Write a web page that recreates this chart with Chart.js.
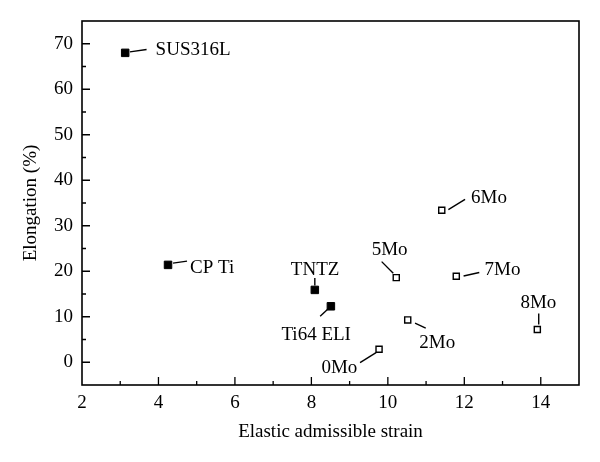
<!DOCTYPE html>
<html>
<head>
<meta charset="utf-8">
<script src="https://cdn.jsdelivr.net/npm/chart.js@4.4.0/dist/chart.umd.min.js"></script>
<style>
  html, body { margin: 0; padding: 0; background: #fff; }
  #wrap { width: 600px; height: 462px; }
</style>
</head>
<body>
<div id="wrap"><canvas id="c" width="600" height="462"></canvas></div>
<script>
// ---- data ----
const refNames = ["SUS316L", "CP Ti", "TNTZ", "Ti64 ELI"];
const refStrain = [3.13, 4.25, 8.09, 8.51];
const refElong = [68.0, 21.4, 15.9, 12.3];

const moNames = ["0Mo", "2Mo", "5Mo", "6Mo", "7Mo", "8Mo"];
const moStrain = [9.77, 10.52, 10.22, 11.41, 11.79, 13.91];
const moElong = [2.85, 9.3, 18.6, 33.4, 18.9, 7.2];

const xTickLabels = [2, 4, 6, 8, 10, 12, 14];
const yTickLabels = [0, 10, 20, 30, 40, 50, 60, 70];

const xTitle = "Elastic admissible strain";
const yTitle = "Elongation (%)";

// ---- label placement (pixel offsets from each point) ----
const labelLayout = {
  "SUS316L": { line: [4.7, -1, 21.4, -3.4], text: [30.4, 2.3], align: "left" },
  "CP Ti":   { line: [5, -1.7, 19, -3.7], text: [22, 8.6], align: "left" },
  "TNTZ":    { line: [0, -12, 0, -4.5], text: [0.3, -15], align: "center" },
  "Ti64 ELI":{ line: [-10.7, 10, -2.4, 2.3], text: [-14.7, 34], align: "center" },
  "5Mo":     { line: [-14.6, -16, -3, -4.4], text: [-6.6, -22.7], align: "center" },
  "7Mo":     { line: [7.3, -0.3, 23, -3.7], text: [28.3, -1], align: "left" },
  "2Mo":     { line: [7.3, 3.3, 18, 8.3], text: [11.6, 28.3], align: "left" },
  "0Mo":     { line: [-19, 13.4, -3, 3.4], text: [-21.7, 23.4], align: "right" },
  "8Mo":     { line: [1.4, -16, 1.4, -5], text: [1, -21.6], align: "center" },
  "6Mo":     { line: [6.6, -0.7, 23.3, -11], text: [29.3, -7.3], align: "left" }
};

const FONT = "'Liberation Serif', 'Times New Roman', serif";
const FONT_SIZE = 19;

const toPoints = (xs, ys) => xs.map((x, i) => ({ x: x, y: ys[i] }));

const framePlugin = {
  id: "frameTicks",
  afterDraw(chart) {
    const { ctx, chartArea: a, scales } = chart;
    ctx.save();
    ctx.strokeStyle = "#000";
    ctx.lineWidth = 1.6;
    ctx.strokeRect(a.left, a.top, a.right - a.left, a.bottom - a.top);
    ctx.lineWidth = 1.3;
    ctx.beginPath();
    scales.x.ticks.forEach(t => {
      if (t.value <= scales.x.min || t.value >= scales.x.max) return;
      const px = scales.x.getPixelForValue(t.value);
      const len = xTickLabels.includes(t.value) ? 8 : 4;
      ctx.moveTo(px, a.bottom);
      ctx.lineTo(px, a.bottom - len);
    });
    scales.y.ticks.forEach(t => {
      if (t.value <= scales.y.min || t.value >= scales.y.max) return;
      const py = scales.y.getPixelForValue(t.value);
      const len = yTickLabels.includes(t.value) ? 8 : 4;
      ctx.moveTo(a.left, py);
      ctx.lineTo(a.left + len, py);
    });
    ctx.stroke();

    // point labels with leader lines
    ctx.font = FONT_SIZE + "px " + FONT;
    ctx.fillStyle = "#000";
    ctx.textBaseline = "alphabetic";
    ctx.lineWidth = 1.4;
    chart.data.datasets.forEach((ds, di) => {
      const meta = chart.getDatasetMeta(di);
      ds.names.forEach((name, i) => {
        const el = meta.data[i];
        const L = labelLayout[name];
        if (!L || !el) return;
        ctx.beginPath();
        ctx.moveTo(el.x + L.line[0], el.y + L.line[1]);
        ctx.lineTo(el.x + L.line[2], el.y + L.line[3]);
        ctx.stroke();
        ctx.textAlign = L.align;
        ctx.fillText(name, el.x + L.text[0], el.y + L.text[1]);
      });
    });
    ctx.restore();
  }
};

new Chart(document.getElementById("c"), {
  type: "scatter",
  data: {
    datasets: [
      {
        label: "Reference alloys",
        names: refNames,
        data: toPoints(refStrain, refElong),
        pointStyle: "rect",
        pointRadius: 5.3,
        pointHoverRadius: 5.3,
        backgroundColor: "#000",
        borderColor: "#000",
        borderWidth: 1
      },
      {
        label: "Mo alloys",
        names: moNames,
        data: toPoints(moStrain, moElong),
        pointStyle: "rect",
        pointRadius: 4.3,
        pointHoverRadius: 4.3,
        backgroundColor: "#fff",
        borderColor: "#000",
        borderWidth: 1.4
      }
    ]
  },
  options: {
    responsive: false,
    animation: false,
    devicePixelRatio: 1,
    layout: { padding: { left: 0, right: 21, top: 21, bottom: 0 } },
    plugins: {
      legend: { display: false },
      tooltip: { enabled: false }
    },
    scales: {
      x: {
        type: "linear",
        min: 2,
        max: 15,
        grid: { display: false, drawTicks: false },
        border: { display: false },
        ticks: {
          stepSize: 1,
          autoSkip: false,
          maxRotation: 0,
          padding: 7,
          color: "#000",
          font: { family: FONT, size: FONT_SIZE },
          callback: v => (xTickLabels.includes(v) ? String(v) : "")
        },
        title: {
          display: true,
          text: xTitle,
          color: "#000",
          font: { family: FONT, size: FONT_SIZE },
          padding: { top: 0, bottom: 18.6 }
        },
        afterFit(s) { s.height = 77; }
      },
      y: {
        type: "linear",
        min: -5,
        max: 75,
        grid: { display: false, drawTicks: false },
        border: { display: false },
        ticks: {
          stepSize: 5,
          autoSkip: false,
          padding: 9,
          color: "#000",
          font: { family: FONT, size: FONT_SIZE },
          callback: v => (yTickLabels.includes(v) ? String(v) : "")
        },
        title: {
          display: true,
          text: yTitle,
          color: "#000",
          font: { family: FONT, size: FONT_SIZE },
          padding: { top: 19.6, bottom: 0 }
        },
        afterFit(s) { s.width = 82; }
      }
    }
  },
  plugins: [framePlugin]
});
</script>
</body>
</html>
